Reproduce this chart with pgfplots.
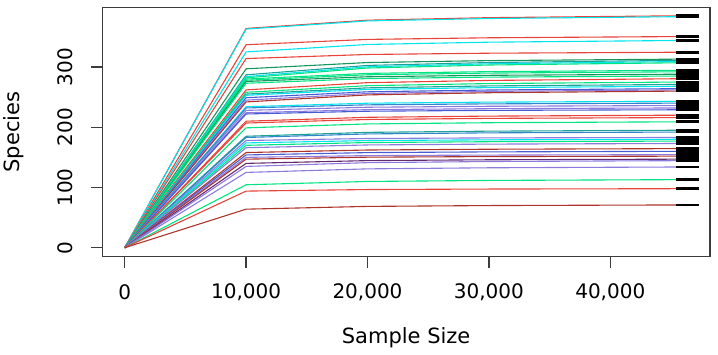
\documentclass[border=0pt]{standalone}
\usepackage{pgfplots}
\pgfplotsset{compat=1.18}
\usepackage{fontspec}
\setmainfont{DejaVu Sans}
\definecolor{cR}{RGB}{232,68,58}
\definecolor{cC}{RGB}{0,228,238}
\definecolor{cG}{RGB}{0,228,130}
\definecolor{cSG}{RGB}{22,150,92}
\definecolor{cT}{RGB}{30,162,150}
\definecolor{cB}{RGB}{50,132,205}
\definecolor{cRB}{RGB}{70,92,212}
\definecolor{cP}{RGB}{140,122,222}
\definecolor{cDR}{RGB}{172,52,42}
\definecolor{cDP}{RGB}{100,42,112}
\definecolor{axgray}{RGB}{60,60,60}
\newcommand\crv[5]{\addplot[#1] coordinates {(0,0) (10000,#2) (20000,#3) (30000,#4) (45437,#5)};
  \addplot[black,line width=2.7pt] coordinates {(45437,#5) (47282,#5)};}
\begin{document}
\begin{tikzpicture}
\useasboundingbox (0,0) rectangle (718pt,354pt);
\begin{axis}[
  at={(102.3pt,97.3pt)}, anchor=south west,
  scale only axis, width=607.7pt, height=249.4pt,
  xmin=-1845, xmax=48213, ymin=-14.9, ymax=399.1,
  axis line style={axgray, line width=1.4pt},
  every tick/.style={axgray, line width=1.3pt},
  tick align=outside, major tick length=11pt,
  xtick pos=bottom, ytick pos=left,
  xtick={0,10000,20000,30000,40000},
  ytick={0,100,200,300},
  scaled x ticks=false,
  /pgf/number format/1000 sep={,},
  /pgf/number format/assume math mode=true,
  tick label style={font=\fontsize{20}{24}\selectfont},
  xticklabel style={anchor=center, yshift=-25pt},
  yticklabel style={xshift=-26pt, rotate=90, anchor=center},
  label style={font=\fontsize{21}{25}\selectfont},
  xlabel={Sample Size},
  ylabel={Species},
  xlabel style={at={(axis description cs:0.5,-0.326)}, anchor=center},
  ylabel style={at={(axis description cs:-0.1453,0.5)}, anchor=center},
  every axis plot/.append style={line width=1.1pt},
  clip=false,
]
\crv{cR}{364}{377.7}{381.9}{385}
\crv{cC}{363}{376.5}{380.5}{383.5}
\crv{cR}{337}{345.8}{348.5}{350.5}
\crv{cC}{325}{337.4}{341.2}{344}
\crv{cR}{314}{320.8}{322.9}{324.5}
\crv{cSG}{297}{307.4}{310.6}{313}
\crv{cT}{287}{302.6}{307.4}{311}
\crv{cC}{284}{300.3}{305.3}{309}
\crv{cG}{282}{298.3}{303.3}{307}
\crv{cG}{280}{289.4}{292.3}{294.5}
\crv{cG}{278}{287.1}{289.9}{292}
\crv{cSG}{276}{283.8}{286.2}{288}
\crv{cG}{273}{280.8}{283.2}{285}
\crv{cR}{262}{274}{277.7}{280.5}
\crv{cG}{258}{269}{272.5}{275}
\crv{cT}{255}{265.4}{268.6}{271}
\crv{cC}{253}{262.8}{265.8}{268}
\crv{cRB}{249}{258.8}{261.8}{264}
\crv{cP}{245}{256}{259.5}{262}
\crv{cDR}{242}{253.7}{257.3}{260}
\crv{cC}{234}{239.9}{241.7}{243}
\crv{cB}{232}{237.2}{238.8}{240}
\crv{cP}{228}{233.2}{234.8}{236}
\crv{cP}{224}{229.2}{230.8}{232}
\crv{cRB}{222}{226.6}{228}{229}
\crv{cR}{210}{216.5}{218.5}{220}
\crv{cR}{207}{212.9}{214.7}{216}
\crv{cG}{199}{205.5}{207.5}{209}
\crv{cT}{185}{191.5}{193.5}{195}
\crv{cB}{183}{188.9}{190.7}{192}
\crv{cP}{178}{181.3}{182.3}{183}
\crv{cC}{174}{177.9}{179.1}{180}
\crv{cG}{170}{174.6}{176}{177}
\crv{cP}{166}{170.6}{172}{173}
\crv{cDR}{158}{162.2}{163.5}{164.5}
\crv{cRB}{154}{157.9}{159.1}{160}
\crv{cP}{150}{152.9}{153.8}{154.5}
\crv{cDR}{147}{150.3}{151.3}{152}
\crv{cDP}{140}{144.6}{146}{147}
\crv{cP}{135}{141.2}{143.1}{144.5}
\crv{cP}{125}{130.9}{132.7}{134}
\crv{cG}{104.5}{110}{111.7}{113}
\crv{cR}{94}{96.6}{97.4}{98}
\crv{cDR}{64}{68.6}{70}{71}
\end{axis}
\end{tikzpicture}
\end{document}
